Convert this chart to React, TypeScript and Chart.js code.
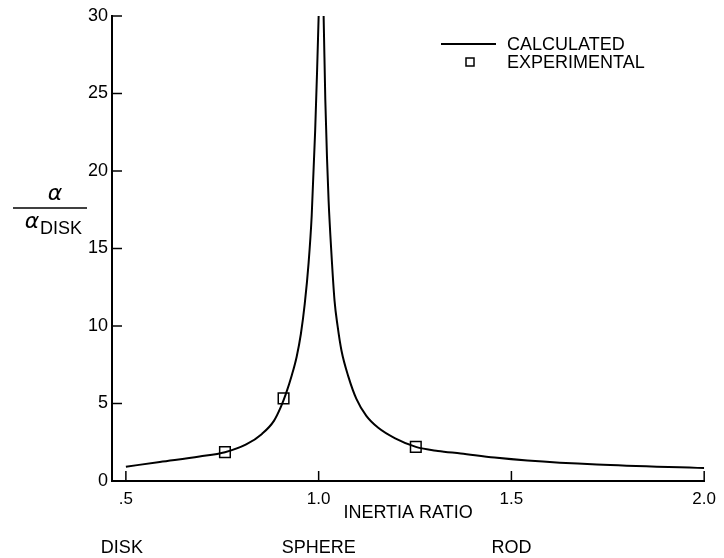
import React, { useEffect, useRef } from 'react';
import { Chart, registerables } from 'chart.js';

Chart.register(...registerables);

// Calculated curve (inertia ratio, alpha / alpha_disk)
const calcRatio = [0.5, 0.588, 0.691, 0.757, 0.812, 0.853, 0.884, 0.902, 0.915, 0.930, 0.943, 0.954, 0.964, 0.974, 0.982, 0.991, 0.996, 1.0, 1.002,
  1.011, 1.0129, 1.0173, 1.0219, 1.0258, 1.0327, 1.0412, 1.049, 1.0593, 1.0773, 1.0979, 1.1237, 1.1546, 1.1985, 1.2521, 1.3093, 1.3686, 1.4562, 1.5412, 1.7216, 2.0];
const calcAlpha = [0.92, 1.23, 1.58, 1.86, 2.36, 3.04, 3.88, 4.78, 5.62, 6.79, 8.02, 9.5, 11.44, 14.09, 17.13, 22.62, 26.5, 30.0, 31.7,
  31.7, 30.0, 24.56, 20.69, 18.1, 14.87, 11.64, 10.02, 8.4, 6.72, 5.3, 4.2, 3.43, 2.75, 2.2, 1.94, 1.78, 1.52, 1.33, 1.07, 0.84];

// Experimental points
const expRatio = [0.757, 0.909, 1.252];
const expAlpha = [1.86, 5.33, 2.2];

const xTickValues = [0.5, 1.0, 1.5, 2.0];
const xTickLabels = ['.5', '1.0', '1.5', '2.0'];
const yTickValues = [0, 5, 10, 15, 20, 25, 30];
const shapeLabels = ['DISK', 'SPHERE', 'ROD'];
const shapeRatios = [0.5, 1.0, 1.5];
const legendLabels = ['CALCULATED', 'EXPERIMENTAL'];

const FONT = "'Liberation Sans', Arial, sans-serif";

const decor = {
  id: 'decor',
  afterDraw(chart: any) {
    const { ctx, chartArea, scales } = chart;
    const x = scales.x;
    const y = scales.y;
    ctx.save();
    ctx.strokeStyle = '#000';
    ctx.fillStyle = '#000';
    ctx.lineWidth = 1.5;
    // inward ticks
    yTickValues.forEach((v) => {
      if (v === 0) return;
      const py = y.getPixelForValue(v);
      ctx.beginPath();
      ctx.moveTo(chartArea.left, py);
      ctx.lineTo(chartArea.left + 10, py);
      ctx.stroke();
    });
    xTickValues.forEach((v) => {
      const px = x.getPixelForValue(v);
      ctx.beginPath();
      ctx.moveTo(px, chartArea.bottom);
      ctx.lineTo(px, chartArea.bottom - 10);
      ctx.stroke();
    });
    // shape labels under the axis
    ctx.font = `18px ${FONT}`;
    ctx.textAlign = 'center';
    ctx.textBaseline = 'middle';
    shapeLabels.forEach((s, i) => {
      ctx.fillText(s, x.getPixelForValue(shapeRatios[i]) - (i === 0 ? 4 : 0), 548);
    });
    // legend
    ctx.lineWidth = 2;
    ctx.beginPath();
    ctx.moveTo(441, 44);
    ctx.lineTo(496, 44);
    ctx.stroke();
    ctx.lineWidth = 1.5;
    ctx.fillStyle = '#fff';
    ctx.fillRect(466, 58, 8, 8);
    ctx.strokeRect(466, 58, 8, 8);
    ctx.fillStyle = '#000';
    ctx.textAlign = 'left';
    ctx.fillText(legendLabels[0], 507, 45);
    ctx.fillText(legendLabels[1], 507, 63);
    // y axis title: alpha / alpha_DISK
    ctx.font = `italic 22px 'DejaVu Sans', sans-serif`;
    ctx.textAlign = 'center';
    ctx.fillText('α', 55, 194);
    ctx.lineWidth = 1.5;
    ctx.beginPath();
    ctx.moveTo(13, 208);
    ctx.lineTo(87, 208);
    ctx.stroke();
    ctx.fillText('α', 32, 222);
    ctx.font = `18px ${FONT}`;
    ctx.textAlign = 'left';
    ctx.fillText('DISK', 40, 229);
    ctx.restore();
  },
};

export default function App() {
  const canvasRef = useRef<HTMLCanvasElement | null>(null);

  useEffect(() => {
    const canvas = canvasRef.current;
    if (!canvas) return;
    const chart = new Chart(canvas, {
      type: 'line',
      data: {
        datasets: [
          {
            label: legendLabels[0],
            data: calcRatio.map((r, i) => ({ x: r, y: calcAlpha[i] })),
            borderColor: '#000',
            borderWidth: 2,
            pointRadius: 0,
            fill: false,
            cubicInterpolationMode: 'monotone',
          },
          {
            label: legendLabels[1],
            data: expRatio.map((r, i) => ({ x: r, y: expAlpha[i] })),
            showLine: false,
            pointStyle: 'rect',
            pointRadius: 7.5,
            pointBackgroundColor: '#fff',
            pointBorderColor: '#000',
            pointBorderWidth: 1.5,
          },
        ],
      },
      options: {
        animation: false,
        responsive: false,
        events: [],
        layout: { padding: { top: 16, right: 16, left: 0, bottom: 0 } },
        plugins: { legend: { display: false }, tooltip: { enabled: false } },
        scales: {
          x: {
            type: 'linear',
            min: 0.464,
            max: 2.0,
            grid: { display: false, drawTicks: false },
            border: { display: true, color: '#000', width: 2 },
            afterBuildTicks: (s: any) => {
              s.ticks = xTickValues.map((v) => ({ value: v }));
            },
            afterFit: (s: any) => {
              s.height = 77;
            },
            ticks: {
              color: '#000',
              padding: 8,
              autoSkip: false,
              maxRotation: 0,
              font: { family: FONT, size: 17 },
              callback: (v: any) => {
                const i = xTickValues.indexOf(Number(v));
                return i >= 0 ? xTickLabels[i] : '';
              },
            },
            title: {
              display: true,
              text: 'INERTIA RATIO',
              color: '#000',
              font: { family: FONT, size: 18 },
              padding: { top: 0, bottom: 34 },
            },
          },
          y: {
            type: 'linear',
            min: 0,
            max: 30,
            grid: { display: false, drawTicks: false },
            border: { display: true, color: '#000', width: 2 },
            afterFit: (s: any) => {
              s.width = 112;
            },
            ticks: {
              color: '#000',
              padding: 4,
              stepSize: 5,
              font: { family: FONT, size: 18 },
            },
          },
        },
      },
      plugins: [decor],
    } as any);
    return () => chart.destroy();
  }, []);

  return (
    <div style={{ position: 'fixed', left: 0, top: 0, width: 724, height: 558, background: '#fff' }}>
      <canvas ref={canvasRef} width={724} height={558} style={{ width: 724, height: 558, display: 'block' }} />
    </div>
  );
}
